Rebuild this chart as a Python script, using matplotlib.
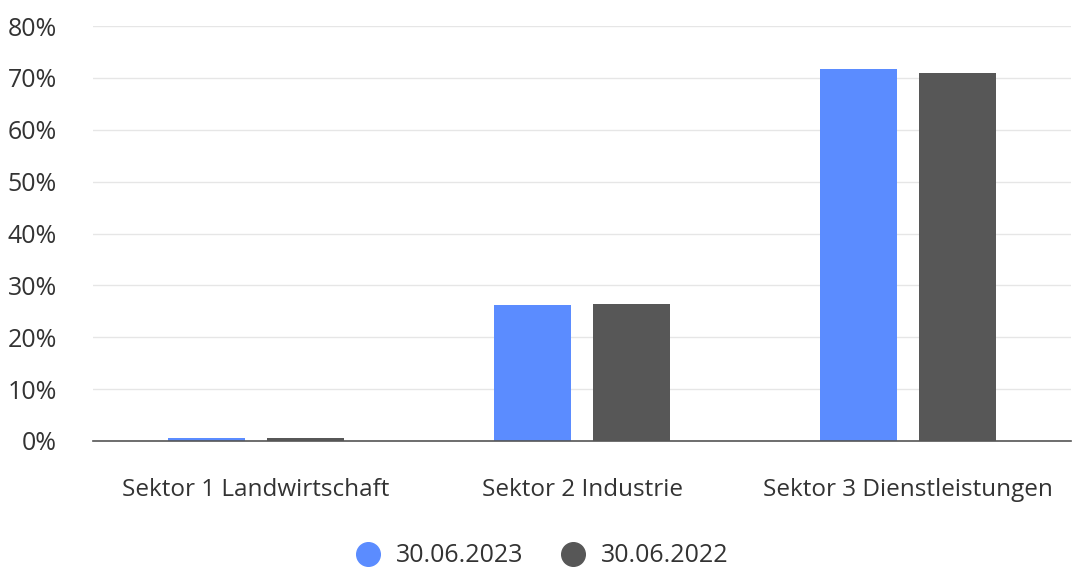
import matplotlib.pyplot as plt
import numpy as np
from matplotlib.ticker import FuncFormatter
from matplotlib.lines import Line2D

plt.rcParams['font.family'] = ['Open Sans', 'DejaVu Sans']

categories = ["Sektor 1 Landwirtschaft", "Sektor 2 Industrie", "Sektor 3 Dienstleistungen"]
series_names = ["30.06.2023", "30.06.2022"]
vals_2023 = [0.6, 26.2, 71.8]
vals_2022 = [0.6, 26.5, 71.0]
colors = ["#5b8cff", "#575757"]

fig = plt.figure(figsize=(10.72, 5.69), dpi=100)
ax = fig.add_axes([93 / 1072, 1 - 441 / 569, (1071 - 93) / 1072, (441 - 26) / 569])

x = np.arange(len(categories))
w = 0.236
off = 0.152
ax.bar(x - off, vals_2023, w, color=colors[0], zorder=3)
ax.bar(x + off, vals_2022, w, color=colors[1], zorder=3)

ax.set_xlim(-0.5, 2.5)
ax.set_ylim(0, 80)
ax.set_yticks(range(0, 81, 10))
ax.yaxis.set_major_formatter(FuncFormatter(lambda v, p: "%d%%" % v))
ax.grid(axis='y', color='#e6e6e6', linewidth=1, zorder=0)
for s in ['top', 'right', 'left']:
    ax.spines[s].set_visible(False)
ax.spines['bottom'].set_color('#555555')
ax.spines['bottom'].set_linewidth(1.2)
ax.spines['bottom'].set_zorder(4)
ax.tick_params(axis='y', length=0, pad=26, labelsize=18, labelcolor='#333333')
ax.tick_params(axis='x', length=0, pad=27, labelsize=17.5, labelcolor='#333333')
ax.set_xticks(x)
ax.set_xticklabels(categories)

handles = [Line2D([], [], marker='o', linestyle='', markersize=17, color=c) for c in colors]
fig.legend(handles, series_names, loc='center', bbox_to_anchor=(536 / 1072, 1 - 556 / 569),
           ncol=2, frameon=False, fontsize=18, handletextpad=0.1, columnspacing=1.0,
           labelcolor='#333333')

fig.savefig("out.png", dpi=100)
